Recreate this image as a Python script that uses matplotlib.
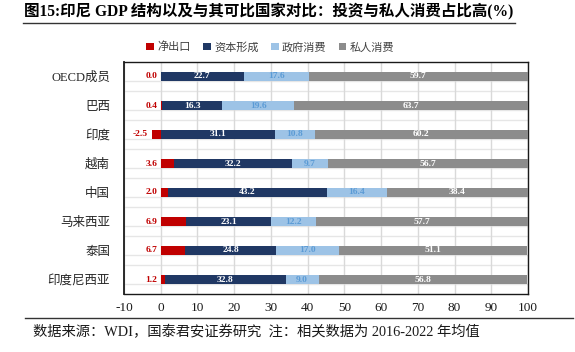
import matplotlib.pyplot as plt
from matplotlib.lines import Line2D
from matplotlib.patches import Patch
import numpy as np

plt.rcParams['font.family'] = ['Liberation Serif', 'Noto Sans CJK SC']

countries = ['OECD成员', '巴西', '印度', '越南', '中国', '马来西亚', '泰国', '印度尼西亚']
net_export = [0.0, 0.4, -2.5, 3.6, 2.0, 6.9, 6.7, 1.2]
capital = [22.7, 16.3, 31.1, 32.2, 43.2, 23.1, 24.8, 32.8]
gov = [17.6, 19.6, 10.8, 9.7, 16.4, 12.2, 17.0, 9.0]
private = [59.7, 63.7, 60.2, 56.7, 38.4, 57.7, 51.1, 56.8]

series = ['净出口', '资本形成', '政府消费', '私人消费']
colors = ['#C00000', '#203864', '#9DC3E6', '#8C8C8C']
label_colors = ['#C00000', 'white', '#5B9BD5', 'white']

fig = plt.figure(figsize=(5.75, 3.52), dpi=100)
ax = fig.add_axes([124 / 575, 1 - 294 / 352, 404 / 575, 232 / 352])

n = len(countries)
ypos = np.arange(n)[::-1]
h = 0.31

# positive parts stack from zero, negative net exports go left
left_pos = np.zeros(n)
data = [net_export, capital, gov, private]
for k, vals in enumerate(data):
    vals = np.array(vals)
    if k == 0:
        lefts = np.where(vals < 0, vals, 0.0)
        widths = np.abs(vals)
    else:
        lefts = left_pos.copy()
        widths = vals
    ax.barh(ypos, widths, left=lefts, height=h, color=colors[k], zorder=3)
    for i in range(n):
        if k == 0:
            x = min(vals[i], 0) - 1.0
            ax.text(x, ypos[i], f'{vals[i]:.1f}', ha='right', va='center',
                    fontsize=6.8, fontweight='bold', color=label_colors[k], zorder=4)
        else:
            cx = lefts[i] + widths[i] / 2
            cx = min(cx, (lefts[i] + 100) / 2) if lefts[i] + widths[i] > 100 else cx
            ax.text(cx, ypos[i], f'{vals[i]:.1f}', ha='center', va='center',
                    fontsize=6.8, fontweight='bold', color=label_colors[k], zorder=4)
    if k == 0:
        left_pos = np.where(vals > 0, vals, 0.0)
    else:
        left_pos = left_pos + vals

ax.set_xlim(-10, 100)
ax.set_ylim(-0.5, n - 0.5)
ax.set_xticks(np.arange(-10, 101, 10))
ax.set_xticklabels([str(v) for v in range(-10, 101, 10)], fontsize=9.5, color='#1A1A1A')
ax.set_yticks(ypos)
ax.set_yticklabels(countries, fontsize=9, fontweight='light', color='#262626')
ax.tick_params(axis='both', length=0, pad=6)
ax.tick_params(axis='y', pad=10)

ax.grid(axis='x', color='#D9D9D9', linewidth=1, zorder=0)
for y in np.arange(n - 1) + 0.5:
    ax.axhline(y, color='#E6E6E6', linewidth=1, zorder=0)
for y in ypos:
    ax.axhline(y - h / 2, color='#E6E6E6', linewidth=1, zorder=0)

for s in ['left', 'right', 'top', 'bottom']:
    ax.spines[s].set_color('#1A1A1A')
    ax.spines[s].set_linewidth(1.0)
ax.spines['left'].set_linewidth(1.3)

# legend
handles = [Patch(facecolor=c, edgecolor='none') for c in colors]
fig.legend(handles, series, loc='center', bbox_to_anchor=(0.47, 1 - 47 / 352), ncol=4,
           frameon=False, fontsize=8, handlelength=0.7, handleheight=0.7,
           handletextpad=0.3, columnspacing=1.1, labelcolor='#404040',
           prop={'weight': 'light', 'size': 8})

# title and footer
fig.text(24 / 575, 1 - 12 / 352, '图15:印尼 GDP 结构以及与其可比国家对比：投资与私人消费占比高(%)',
         fontsize=11.2, fontweight='bold', va='center', ha='left')
fig.add_artist(Line2D([23 / 575, 515 / 575], [1 - 23 / 352, 1 - 23 / 352], color='#333333', linewidth=1))
fig.add_artist(Line2D([25 / 575, 573 / 575], [1 - 318 / 352, 1 - 318 / 352], color='#333333', linewidth=1))
fig.text(33 / 575, 1 - 332 / 352, '数据来源：WDI，国泰君安证券研究  注：相关数据为 2016-2022 年均值',
         fontsize=10.3, fontweight='light', va='center', ha='left', color='#1A1A1A')

fig.savefig('out.png', dpi=100)
